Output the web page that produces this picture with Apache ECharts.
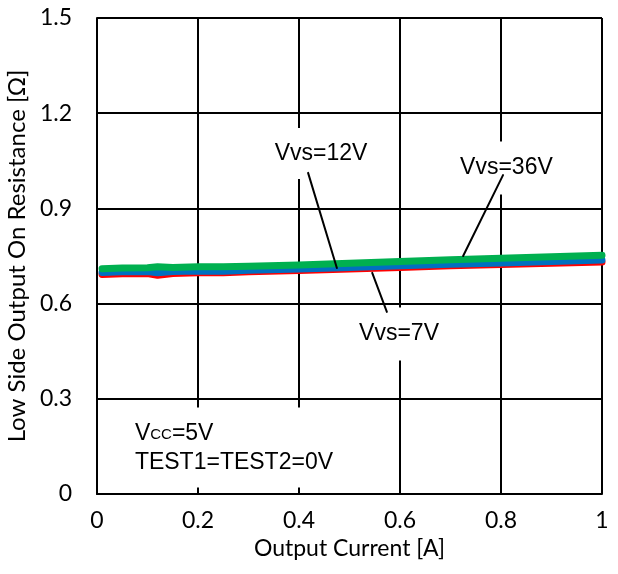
<!DOCTYPE html>
<html>
<head>
<meta charset="utf-8">
<script src="https://cdn.jsdelivr.net/npm/echarts@6/dist/echarts.min.js"></script>
<style>html,body{margin:0;padding:0;background:#fff}#c{width:618px;height:574px}</style>
</head>
<body>
<div id="c"></div>
<script>
// Data
var current = [0.01, 0.05, 0.1, 0.12, 0.15, 0.2, 0.25, 0.3, 0.4, 0.5, 0.6, 0.7, 0.8, 0.9, 1.0];
var vvs36 = [0.710, 0.712, 0.713, 0.716, 0.714, 0.716, 0.716, 0.718, 0.722, 0.727, 0.733, 0.738, 0.743, 0.748, 0.752];
var vvs12 = [0.698, 0.700, 0.701, 0.697, 0.701, 0.703, 0.702, 0.705, 0.709, 0.714, 0.719, 0.724, 0.728, 0.733, 0.737];
var vvs7  = [0.692, 0.694, 0.695, 0.689, 0.695, 0.697, 0.697, 0.700, 0.704, 0.709, 0.714, 0.719, 0.723, 0.727, 0.731];
var xTicks = ['0', '0.2', '0.4', '0.6', '0.8', '1'];
var yTicks = ['0', '0.3', '0.6', '0.9', '1.2', '1.5'];
// leader lines (data coordinates): [from label, to curve]
var lead12 = [[0.418, 1.012], [0.475, 0.712]];
var lead36 = [[0.804, 1.005], [0.725, 0.750]];
var lead7  = [[0.545, 0.697], [0.574, 0.574]];
// annotation anchors (data coordinates, text left / vertical centre)
var label12 = [0.352, 1.073];
var label36 = [0.719, 1.027];
var label7  = [0.519, 0.504];
var noteAnchor = [0.075, 0.153];

function pairs(xs, ys){ return xs.map(function(x,i){ return [x, ys[i]]; }); }

var chart = echarts.init(document.getElementById('c'), null, {renderer:'canvas'});
var tickFont = 'Lato, "Open Sans", sans-serif';
var lineSer = function(data, color, width, z){
  return {type:'line', data:data, showSymbol:false, symbol:'none', z:z,
    lineStyle:{color:color, width:width, cap:'round', join:'round'}, animation:false, silent:true};
};
chart.setOption({
  animation:false,
  grid:{left:97, right:16, top:18, bottom:80, containLabel:false, outerBoundsMode:'none'},
  xAxis:{type:'value', min:0, max:1, interval:0.2,
    name:'Output Current [A]', nameLocation:'middle', nameGap:39,
    nameTextStyle:{fontFamily:tickFont, fontSize:23, color:'#000'},
    axisLine:{show:true, lineStyle:{color:'#000', width:2}},
    axisTick:{show:false},
    axisLabel:{margin:15, fontFamily:tickFont, fontSize:23, color:'#000',
      formatter:function(v){ return xTicks[Math.round(v/0.2)]; }},
    splitLine:{show:true, lineStyle:{color:'#000', width:2}}
  },
  yAxis:{type:'value', min:0, max:1.5, interval:0.3,
    name:'Low Side Output On Resistance [Ω]', nameLocation:'middle', nameGap:64,
    nameTextStyle:{fontFamily:tickFont, fontSize:24, color:'#000'},
    axisLine:{show:true, lineStyle:{color:'#000', width:2}},
    axisTick:{show:false},
    axisLabel:{margin:25, fontFamily:tickFont, fontSize:23, color:'#000',
      formatter:function(v){ return yTicks[Math.round(v/0.3)]; }},
    splitLine:{show:true, lineStyle:{color:'#000', width:2}}
  },
  series:[
    lineSer(pairs(current, vvs7), '#FF0000', 7, 2),
    lineSer(pairs(current, vvs12), '#0070C0', 7, 3),
    lineSer(pairs(current, vvs36), '#00B050', 7, 4),
    lineSer(lead12, '#000', 2, 6),
    lineSer(lead36, '#000', 2, 6),
    lineSer(lead7, '#000', 2, 6)
  ]
});

function px(p){ return chart.convertToPixel({gridIndex:0}, p); }
var labFont = '23px "Liberation Sans", Arial, sans-serif';
var p12 = px(label12), p36 = px(label36), p7 = px(label7), pn = px(noteAnchor);
function boxText(p, txt, pad){
  return {type:'text', z:5, x:p[0]-pad[3], y:p[1], style:{text:txt, font:labFont, fill:'#000',
    align:'left', verticalAlign:'middle', backgroundColor:'#fff', padding:pad}};
}
chart.setOption({
  graphic:[
    boxText(p12, 'Vvs=12V', [14,30,14,6]),
    boxText(p36, 'Vvs=36V', [15,10,15,10]),
    boxText(p7, 'Vvs=7V', [15,10,15,10]),
    {type:'rect', z:5, shape:{x:pn[0]-10, y:pn[1]-38, width:222, height:80}, style:{fill:'#fff'}},
    {type:'text', z:6, x:pn[0], y:pn[1], style:{
      text:'{a|V}{b|CC}{a|=5V}\n{a|TEST1=TEST2=0V}', fill:'#000', align:'left', verticalAlign:'middle',
      rich:{a:{font:labFont, lineHeight:29, verticalAlign:'bottom'},
            b:{font:'15px "Liberation Sans", Arial, sans-serif', lineHeight:29, verticalAlign:'bottom', padding:[0,0,3,0]}}
    }}
  ]
});
</script>
</body>
</html>
